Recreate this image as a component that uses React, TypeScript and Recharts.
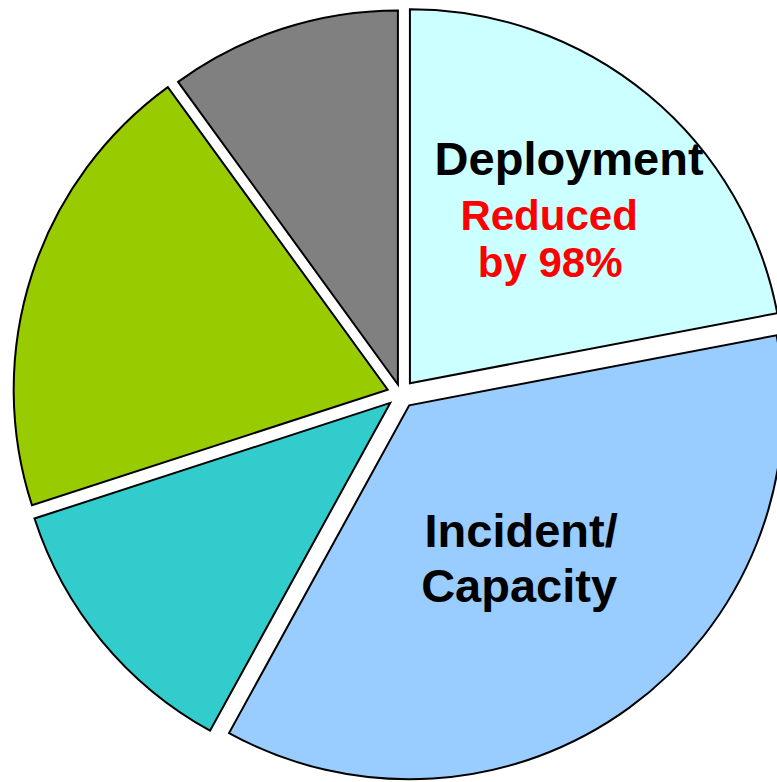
import React from 'react';
import { PieChart, Pie, Cell, Sector } from 'recharts';

const categories = ['Deployment', 'Incident/Capacity', 'Segment C', 'Segment D', 'Segment E'];
const values = [22, 36, 12, 20, 10];
const colors = ['#CCFFFF', '#99CCFF', '#33CCCC', '#99CC00', '#808080'];
const explode = [14, 14, 14, 14, 10];

type Line = { text: string; size: number; color: string; dx: number; dy: number };
const sliceLabels: Line[][] = [
  [
    { text: 'Deployment', size: 47, color: '#000000', dx: 40, dy: -64 },
    { text: 'Reduced', size: 42, color: '#FF0000', dx: 20, dy: -9 },
    { text: 'by 98%', size: 42, color: '#FF0000', dx: 21, dy: 38 },
  ],
  [
    { text: 'Incident/', size: 47, color: '#000000', dx: 2, dy: -10 },
    { text: 'Capacity', size: 47, color: '#000000', dx: 0, dy: 45 },
  ],
  [],
  [],
  [],
];

const data = categories.map((name, i) => ({ name, value: values[i] }));

const RADIAN = Math.PI / 180;
const FONT = '"Liberation Sans", Arial, sans-serif';

const offsetOf = (midAngle: number, index: number) => {
  const e = explode[index] ?? 14;
  return {
    dx: e * Math.cos(-midAngle * RADIAN),
    dy: e * Math.sin(-midAngle * RADIAN),
  };
};

const ExplodedSector = (props: any) => {
  const { cx, cy, midAngle, index } = props;
  const { dx, dy } = offsetOf(midAngle, index);
  return <Sector {...props} cx={cx + dx} cy={cy + dy} />;
};

const renderLabel = (props: any) => {
  const { cx, cy, midAngle, outerRadius, index } = props;
  const lines = sliceLabels[index] || [];
  if (!lines.length) return null;
  const { dx, dy } = offsetOf(midAngle, index);
  const r = outerRadius * 0.5;
  const ax = cx + dx + r * Math.cos(-midAngle * RADIAN);
  const ay = cy + dy + r * Math.sin(-midAngle * RADIAN);
  return (
    <g key={`lbl-${index}`}>
      {lines.map((l, j) => (
        <text
          key={j}
          x={ax + l.dx}
          y={ay + l.dy}
          textAnchor="middle"
          fill={l.color}
          fontSize={l.size}
          fontWeight="bold"
          fontFamily={FONT}
        >
          {l.text}
        </text>
      ))}
    </g>
  );
};

export default function App() {
  return (
    <div style={{ position: 'absolute', left: 0, top: 0, width: 777, height: 782, background: '#fff' }}>
      <PieChart width={777} height={782} margin={{ top: 0, right: 0, bottom: 0, left: 0 }}>
        <Pie
          data={data}
          dataKey="value"
          nameKey="name"
          cx={401}
          cy={394}
          outerRadius={374}
          startAngle={90}
          endAngle={-270}
          stroke="#000000"
          strokeWidth={2}
          shape={ExplodedSector}
          label={renderLabel}
          labelLine={false}
          isAnimationActive={false}
        >
          {data.map((d, i) => (
            <Cell key={d.name} fill={colors[i]} stroke="#000000" strokeWidth={2} />
          ))}
        </Pie>
      </PieChart>
    </div>
  );
}
